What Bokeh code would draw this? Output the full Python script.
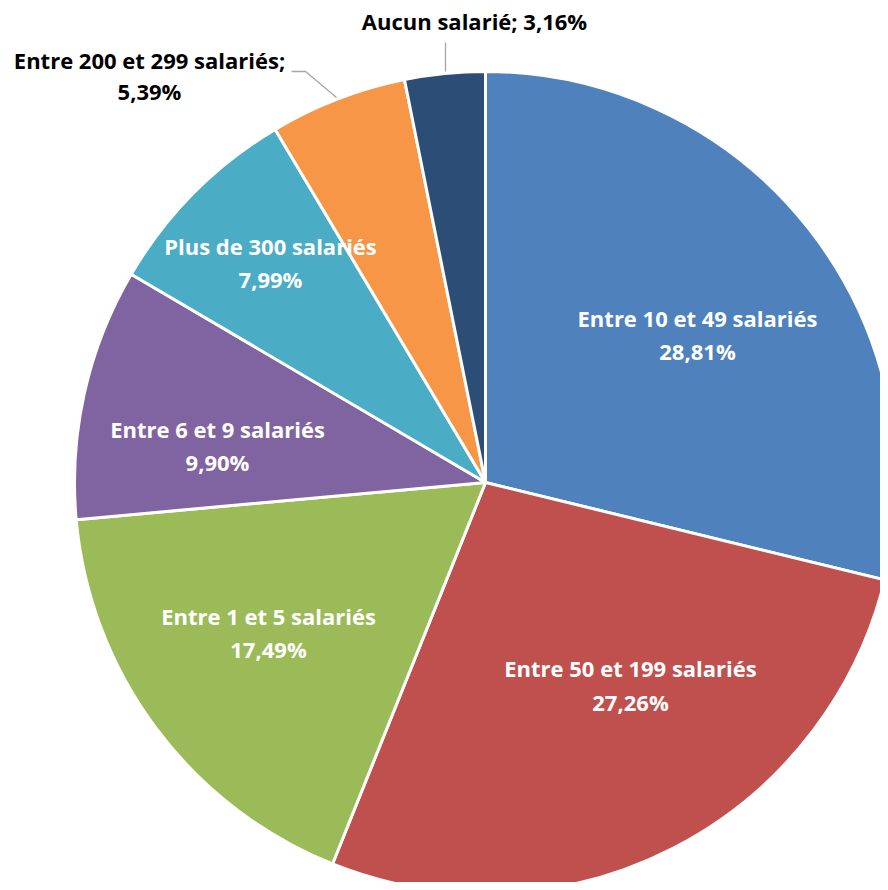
import math
from bokeh.plotting import figure
from bokeh.models import Range1d, ColumnDataSource
from bokeh.core.properties import value
from bokeh.embed import file_html
from bokeh.resources import INLINE

# ---- data ----
categories = ["Entre 10 et 49 salariés", "Entre 50 et 199 salariés", "Entre 1 et 5 salariés",
              "Entre 6 et 9 salariés", "Plus de 300 salariés", "Entre 200 et 299 salariés",
              "Aucun salarié"]
shares = [28.81, 27.26, 17.49, 9.90, 7.99, 5.39, 3.16]
value_labels = ["28,81%", "27,26%", "17,49%", "9,90%", "7,99%", "5,39%", "3,16%"]
colors = ["#4F81BD", "#C0504D", "#9BBB59", "#8064A2", "#4BACC6", "#F79646", "#2C4D75"]

# ---- layout (reference pixel coords: x right, y down) ----
W, H = 880, 882
CX, CY, R = 485, 482, 411
FONT = "Open Sans"
FS = "22px"
DY = -2  # baseline correction

def Y(py):
    return 890 - (py + DY)

p = figure(width=W, height=H, output_backend="svg", toolbar_location=None,
           x_range=Range1d(0, 880), y_range=Range1d(8, 890),
           min_border=0, outline_line_color=None)
p.axis.visible = False
p.grid.visible = False
p.background_fill_color = "white"
p.border_fill_color = "white"

total = sum(shares)
starts, ends = [], []
cum = 0.0
for s in shares:
    a0 = math.pi / 2 - 2 * math.pi * (cum + s) / total
    a1 = math.pi / 2 - 2 * math.pi * cum / total
    starts.append(a0)
    ends.append(a1)
    cum += s

src = ColumnDataSource(dict(x=[CX] * len(shares), y=[890 - CY] * len(shares),
                            start=starts, end=ends, color=colors))
p.wedge(x="x", y="y", radius=R, radius_units="data", start_angle="start", end_angle="end",
        fill_color="color", line_color="white", line_width=3, source=src)

# inside labels (index, x, y of first line, y of second line)
inside = [(0, 697, 319, 352), (1, 630, 669, 703), (2, 268, 617, 650),
          (3, 217, 430, 463), (4, 270, 247, 280)]
for i, lx, ly1, ly2 in inside:
    p.text(x=[lx, lx], y=[Y(ly1), Y(ly2)], text=[categories[i], value_labels[i]],
           text_color="white", text_font=value(FONT), text_font_style="bold",
           text_font_size=FS, text_align="center", text_baseline="middle")

# outside labels with leader lines
p.line(x=[291, 305, 336], y=[890 - 71, 890 - 71, 890 - 97], line_color="#A6A6A6", line_width=1.3)
p.line(x=[445, 445], y=[890 - 42, 890 - 71], line_color="#A6A6A6", line_width=1.3)
p.text(x=[149, 149], y=[Y(61), Y(92)], text=[categories[5] + ";", value_labels[5]],
       text_color="black", text_font=value(FONT), text_font_style="bold",
       text_font_size=FS, text_align="center", text_baseline="middle")
p.text(x=[474], y=[Y(22)], text=[categories[6] + "; " + value_labels[6]],
       text_color="black", text_font=value(FONT), text_font_style="bold",
       text_font_size=FS, text_align="center", text_baseline="middle")

open("out.html", "w").write(file_html(p, INLINE))
